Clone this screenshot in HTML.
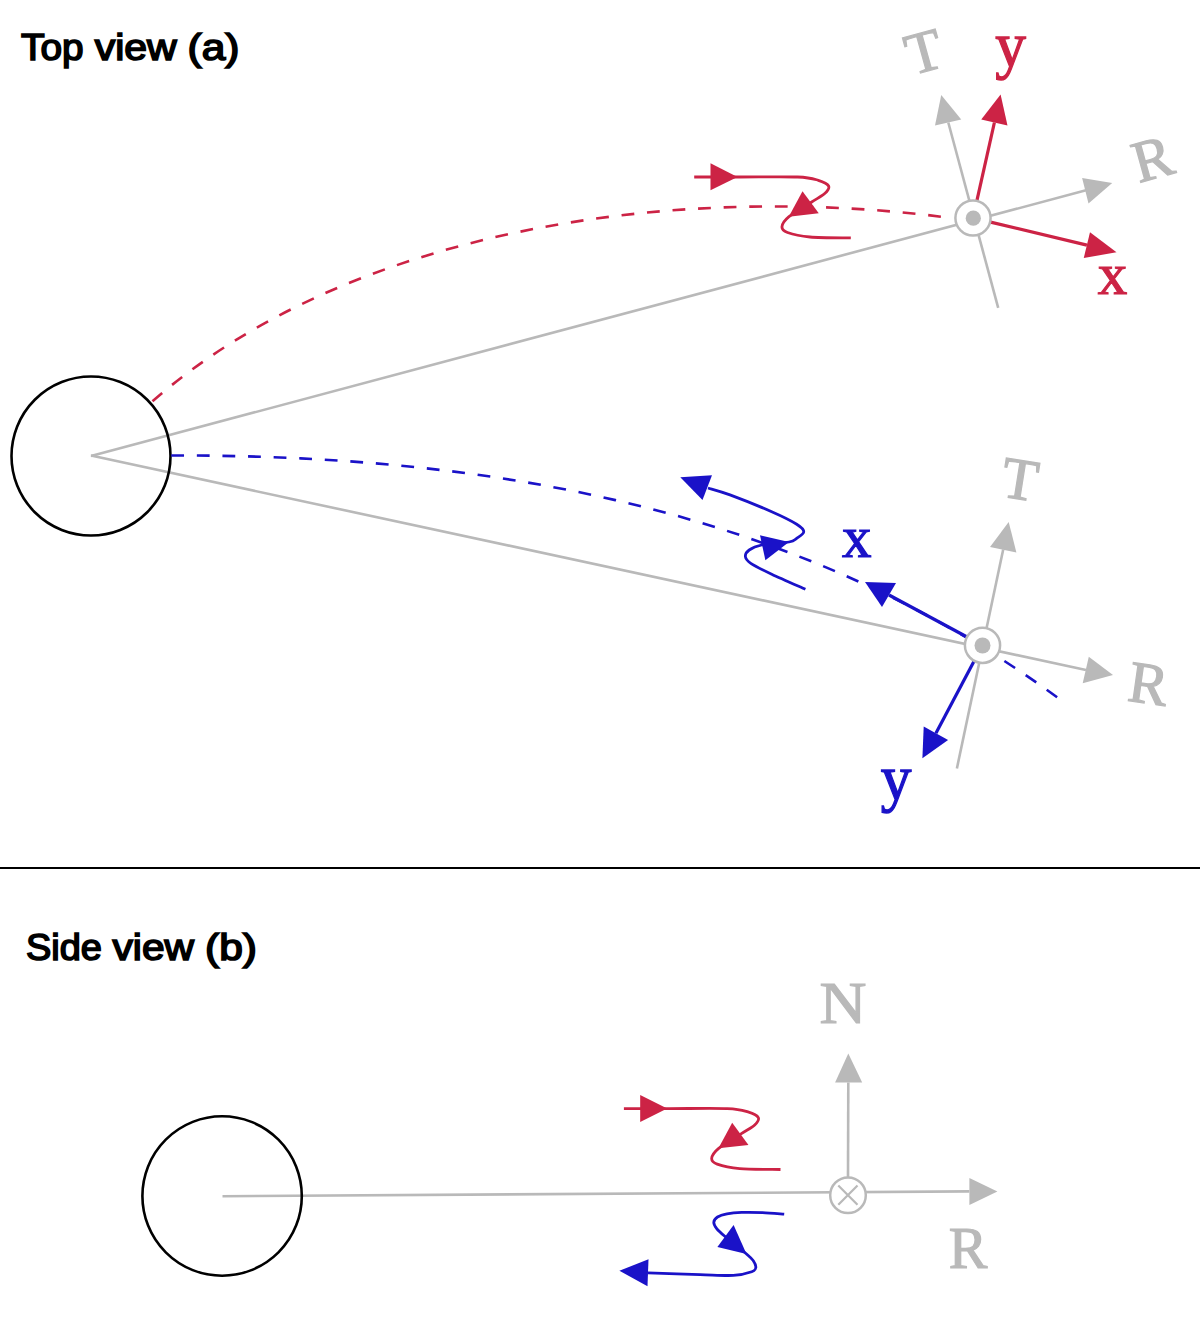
<!DOCTYPE html>
<html><head><meta charset="utf-8"><style>
html,body{margin:0;padding:0;background:#fff;}
body{width:1200px;height:1331px;overflow:hidden;}
svg{display:block;}
.ttl{font-family:"Liberation Sans",sans-serif;font-size:36px;fill:#000;stroke:#000;stroke-width:1.6px;}
.lab{font-family:"Liberation Serif",serif;font-size:59px;text-anchor:middle;stroke-width:1.2px;}
</style></head><body>
<svg width="1200" height="1331" viewBox="0 0 1200 1331">
<line x1="91" y1="456" x2="1086" y2="190.3" stroke="#b9b9b9" stroke-width="2.6"/>
<line x1="91" y1="455.6" x2="1086" y2="670" stroke="#b9b9b9" stroke-width="2.6"/>
<circle cx="91" cy="456" r="79.5" fill="none" stroke="#000" stroke-width="2.6"/>
<path d="M 152.5 401.25 C 345.46 232.43 666.55 180.4 951.65 218.05" fill="none" stroke="#cc2345" stroke-width="2.6" stroke-dasharray="12.8 12.8"/>
<path d="M 171.25 455.5 C 480.36 454.71 794.12 504.86 1057.3 697.4" fill="none" stroke="#1a12c8" stroke-width="2.6" stroke-dasharray="12.8 12.8"/>
<line x1="998.2" y1="307.9" x2="948.3" y2="122.5" stroke="#b9b9b9" stroke-width="2.6"/>
<polygon fill="#b9b9b9" points="941.25,95 935,125.6 961.25,119.4"/>
<polygon fill="#b9b9b9" points="1112.2,183 1082.1,177.9 1088.5,203.4"/>
<line x1="976.72" y1="201.41" x2="994.4" y2="122.5" stroke="#cc2345" stroke-width="3.2"/>
<polygon fill="#cc2345" points="1000.6,94.4 981.25,119.4 1007.5,125.6"/>
<line x1="989.54" y1="221.93" x2="1086.9" y2="245.1" stroke="#cc2345" stroke-width="3.2"/>
<polygon fill="#cc2345" points="1116.5,252.3 1090,232.25 1083.75,258"/>
<circle cx="973" cy="218" r="17.6" fill="#fff" stroke="#b9b9b9" stroke-width="2.5"/>
<circle cx="973.3" cy="218.2" r="7.6" fill="#b9b9b9"/>
<line x1="956.9" y1="768.4" x2="1003.2" y2="549.6" stroke="#b9b9b9" stroke-width="2.6"/>
<polygon fill="#b9b9b9" points="1008.7,522 990,546.9 1016.4,552.4"/>
<polygon fill="#b9b9b9" points="1113,675 1088.8,656.8 1082.7,683.2"/>
<line x1="967.53" y1="637.25" x2="889" y2="595" stroke="#1a12c8" stroke-width="3.2"/>
<polygon fill="#1a12c8" points="865,582 896,583 882,607"/>
<line x1="974.54" y1="660.32" x2="935.9" y2="733.2" stroke="#1a12c8" stroke-width="3.2"/>
<polygon fill="#1a12c8" points="922.4,758.2 923.7,726.4 948.1,740"/>
<circle cx="982.5" cy="645.3" r="17.6" fill="#fff" stroke="#b9b9b9" stroke-width="2.5"/>
<circle cx="982.5" cy="645.5" r="8" fill="#b9b9b9"/>
<g><path d="M 694.2 177 C 701.83 177 722.78 177 740 177 C 757.22 177 784.45 176.45 797.5 177 C 810.55 177.55 813.12 178.8 818.3 180.3 C 823.48 181.8 827.48 183.83 828.6 186 C 829.72 188.17 827.82 190.63 825 193.3 C 822.18 195.97 817.7 198.1 811.7 202 C 805.7 205.9 793.95 212.58 789 216.7 C 784.05 220.82 782.25 224.07 782 226.7 C 781.75 229.33 782.83 230.78 787.5 232.5 C 792.17 234.22 799.45 236.1 810 237 C 820.55 237.9 844 237.75 850.8 237.9" fill="none" stroke="#cc2345" stroke-width="2.8"/><polygon fill="#cc2345" points="737.5,177 710.5,163.3 710.5,190.3"/><polygon fill="#cc2345" points="788.75,216.7 802.5,191.25 818.75,213.3"/></g>
<path d="M 805.4 589.2 C 799.78 586.7 780.8 578.52 771.7 574.2 C 762.6 569.88 755.18 566.22 750.8 563.3 C 746.42 560.38 745.67 558.92 745.4 556.7 C 745.13 554.48 746.48 551.95 749.2 550 C 751.92 548.05 755.07 546.33 761.7 545 C 768.33 543.67 783.17 543.12 789 542 C 794.83 540.88 794.24 540.02 796.7 538.3 C 799.16 536.58 803.75 534.05 803.75 531.7 C 803.75 529.35 802.04 527.53 796.7 524.2 C 791.36 520.87 782.82 516.58 771.7 511.7 C 760.58 506.82 740.62 498.85 730 494.9 C 719.38 490.95 711.67 489.15 708 488" fill="none" stroke="#1a12c8" stroke-width="2.8"/>
<polygon fill="#1a12c8" points="680.3,477.3 712,475.2 702.5,500"/>
<polygon fill="#1a12c8" points="789,542 760,535.3 765.4,560.3"/>
<rect x="0" y="867" width="1200" height="2" fill="#000"/>
<line x1="222.5" y1="1196.2" x2="969.4" y2="1191.4" stroke="#b9b9b9" stroke-width="2.6"/>
<circle cx="222.1" cy="1196" r="79.7" fill="none" stroke="#000" stroke-width="2.6"/>
<polygon fill="#b9b9b9" points="997.4,1191.4 969.4,1177.9 969.4,1204.9"/>
<line x1="848" y1="1180" x2="848.3" y2="1082.4" stroke="#b9b9b9" stroke-width="2.6"/>
<polygon fill="#b9b9b9" points="848.3,1053.5 835.1,1082.4 862.2,1082.4"/>
<circle cx="848" cy="1195.2" r="17.8" fill="#fff" stroke="#b9b9b9" stroke-width="2.5"/>
<path d="M 838.3 1185.5 L 857.5 1204.7 M 857.5 1185.5 L 838.3 1204.7" stroke="#b9b9b9" stroke-width="2.2"/>
<g transform="translate(-70.3,931.6)"><path d="M 694.2 177 C 701.83 177 722.78 177 740 177 C 757.22 177 784.45 176.45 797.5 177 C 810.55 177.55 813.12 178.8 818.3 180.3 C 823.48 181.8 827.48 183.83 828.6 186 C 829.72 188.17 827.82 190.63 825 193.3 C 822.18 195.97 817.7 198.1 811.7 202 C 805.7 205.9 793.95 212.58 789 216.7 C 784.05 220.82 782.25 224.07 782 226.7 C 781.75 229.33 782.83 230.78 787.5 232.5 C 792.17 234.22 799.45 236.1 810 237 C 820.55 237.9 844 237.75 850.8 237.9" fill="none" stroke="#cc2345" stroke-width="2.8"/><polygon fill="#cc2345" points="737.5,177 710.5,163.3 710.5,190.3"/><polygon fill="#cc2345" points="788.75,216.7 802.5,191.25 818.75,213.3"/></g>
<path d="M 784.2 1214.2 C 780.58 1213.93 769.58 1212.9 762.5 1212.6 C 755.42 1212.3 747.62 1212.2 741.7 1212.4 C 735.78 1212.6 731.03 1213.03 727 1213.8 C 722.97 1214.57 719.7 1215.58 717.5 1217 C 715.3 1218.42 713.93 1220.37 713.8 1222.3 C 713.67 1224.23 714.97 1226.35 716.7 1228.6 C 718.43 1230.85 719.23 1231.57 724.2 1235.8 C 729.17 1240.03 741.65 1249.83 746.5 1254 C 751.35 1258.17 751.75 1258.55 753.3 1260.8 C 754.85 1263.05 756.07 1265.68 755.8 1267.5 C 755.53 1269.32 755.45 1270.38 751.7 1271.7 C 747.95 1273.02 741.92 1274.92 733.3 1275.4 C 724.68 1275.88 714.22 1275.03 700 1274.6 C 685.78 1274.17 656.67 1273.1 648 1272.8" fill="none" stroke="#1a12c8" stroke-width="2.8"/>
<polygon fill="#1a12c8" points="746.5,1254 733.6,1225.1 717.4,1247.1"/>
<polygon fill="#1a12c8" points="619.4,1270.8 648.5,1259.3 647.5,1286.3"/>
<text x="0" y="19.5" class="lab" fill="#b9b9b9" stroke="#b9b9b9" transform="translate(924,52) rotate(-15.5) scale(1.0,1)">T</text>
<text x="0" y="7" class="lab" fill="#cc2345" stroke="#cc2345" transform="translate(1010.5,58.5) rotate(0) scale(1.04,1.06)">y</text>
<text x="0" y="19.5" class="lab" fill="#b9b9b9" stroke="#b9b9b9" transform="translate(1152.5,159) rotate(-15.5) scale(1.0,1)">R</text>
<text x="0" y="13.8" class="lab" fill="#cc2345" stroke="#cc2345" transform="translate(1112.5,280.5) rotate(0) scale(1.0,1)">x</text>
<text x="0" y="19.5" class="lab" fill="#b9b9b9" stroke="#b9b9b9" transform="translate(1020,479.5) rotate(9) scale(1.0,1)">T</text>
<text x="0" y="19.5" class="lab" fill="#b9b9b9" stroke="#b9b9b9" transform="translate(1148.5,684) rotate(8) scale(1.0,1)">R</text>
<text x="0" y="13.8" class="lab" fill="#1a12c8" stroke="#1a12c8" transform="translate(856.8,543.3) rotate(0) scale(1.0,1)">x</text>
<text x="0" y="7" class="lab" fill="#1a12c8" stroke="#1a12c8" transform="translate(896.1,791.5) rotate(0) scale(1.04,1.06)">y</text>
<text x="0" y="19.5" class="lab" fill="#b9b9b9" stroke="#b9b9b9" transform="translate(843,1003.5) rotate(0) scale(1.1,1)">N</text>
<text x="0" y="19.5" class="lab" fill="#b9b9b9" stroke="#b9b9b9" transform="translate(968,1248) rotate(0) scale(0.98,1)">R</text>
<text x="21" y="59.8" class="ttl" textLength="62.5" lengthAdjust="spacingAndGlyphs">Top</text>
<text x="94.7" y="59.8" class="ttl" textLength="82" lengthAdjust="spacingAndGlyphs">view</text>
<text x="187.5" y="59.8" class="ttl" textLength="52" lengthAdjust="spacingAndGlyphs">(a)</text>
<text x="26" y="960.3" class="ttl" textLength="76" lengthAdjust="spacingAndGlyphs">Side</text>
<text x="112.5" y="960.3" class="ttl" textLength="81.5" lengthAdjust="spacingAndGlyphs">view</text>
<text x="205" y="960.3" class="ttl" textLength="52" lengthAdjust="spacingAndGlyphs">(b)</text>
</svg>
</body></html>
